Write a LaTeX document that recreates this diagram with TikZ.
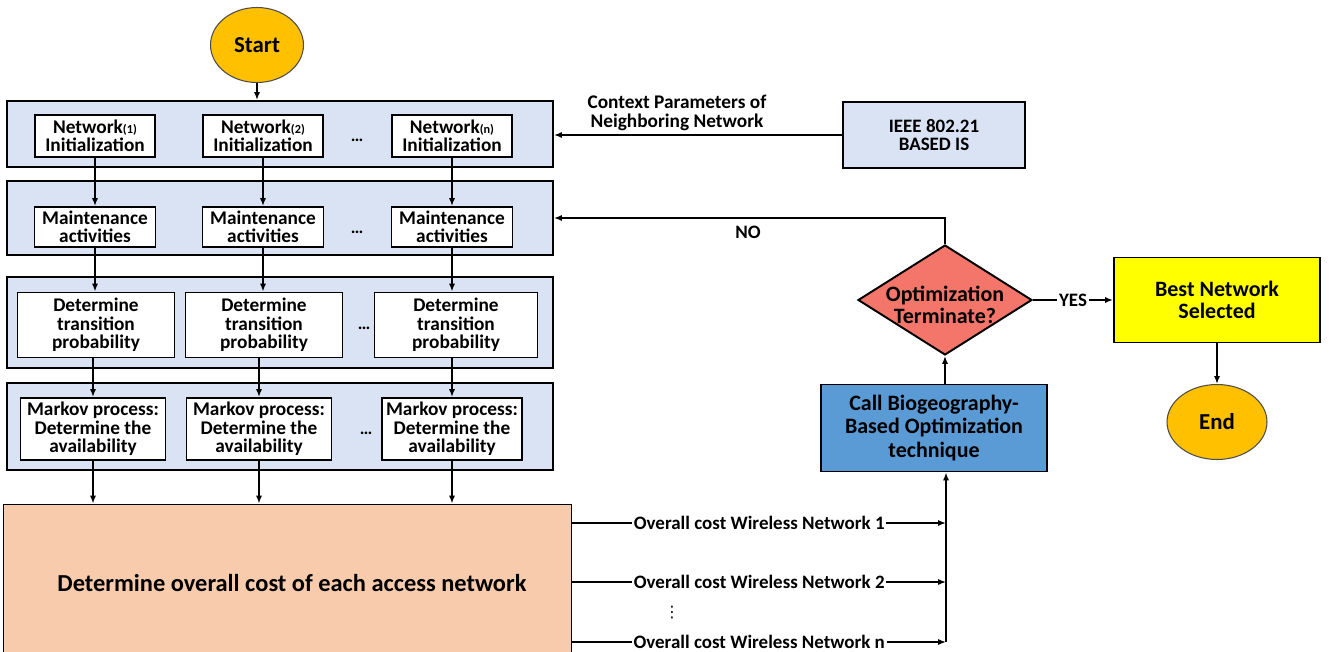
\documentclass[tikz,border=0pt]{standalone}
\usepackage{fontspec}
\setmainfont{Carlito}
\newfontfamily\symfont{DejaVu Sans}
\usetikzlibrary{arrows.meta,positioning,shapes.geometric,fit,calc}
\definecolor{bandblue}{HTML}{DAE3F3}
\definecolor{termorange}{HTML}{FFC000}
\definecolor{costpeach}{HTML}{F8CBAD}
\definecolor{bboblue}{HTML}{5B9BD5}
\definecolor{decred}{HTML}{F4766B}
\definecolor{bestyellow}{HTML}{FFFF00}
\newcommand{\netsub}[1]{{\fontsize{7}{8}\selectfont(#1)}}
\tikzset{
  band/.style={draw,line width=1.1pt,fill=bandblue,inner sep=0pt},
  stepbox/.style={draw,line width=1.1pt,fill=white,align=center,inner sep=1pt,
    font=\bfseries\fontsize{11}{10.5}\selectfont},
  initbox/.style={stepbox,minimum width=2.4cm,minimum height=0.84cm},
  maintbox/.style={stepbox,minimum width=2.42cm,minimum height=0.8cm},
  probbox/.style={stepbox,minimum width=3.14cm,minimum height=1.3cm},
  markbox/.style={stepbox,minimum width=2.9cm,minimum height=1.24cm},
  terminal/.style={ellipse,draw=black!70,line width=0.6pt,fill=termorange,inner sep=0pt,
    font=\bfseries\fontsize{13}{15}\selectfont},
  bigbox/.style={draw,line width=1.1pt,align=center,inner sep=2pt,
    font=\bfseries\fontsize{12.5}{12.5}\selectfont},
  decision/.style={diamond,draw,line width=1.1pt,fill=decred,inner sep=0pt,
    minimum width=3.48cm,minimum height=2.2cm},
  lbl/.style={font=\bfseries\fontsize{10.8}{10.5}\selectfont,align=center,inner sep=1pt},
  dots/.style={font=\bfseries\fontsize{10}{12}\selectfont,inner sep=0pt},
  flow/.style={-{Latex[length=4.5pt,width=3.5pt]},line width=1.1pt},
  plain/.style={line width=1.1pt}
}
\begin{document}
\begin{tikzpicture}[x=0.02cm,y=-0.02cm]
\useasboundingbox (0,0) rectangle (1332,652);

\node[terminal,minimum width=1.86cm,minimum height=1.5cm] (start) at (257,45) {Start};

% the four network bands
\node[band,fit={(7,101) (553,167)}] (band1) {};
\node[band,fit={(7,181) (553,255)}] (band2) {};
\node[band,fit={(7,277) (553,368)}] (band3) {};
\node[band,fit={(7,383) (553,470)}] (band4) {};

\node[initbox] (init1) at (95,136) {Network\netsub{1}\\Initialization};
\node[initbox] (init2) at (263,136) {Network\netsub{2}\\Initialization};
\node[initbox] (init3) at (452,136) {Network\netsub{n}\\Initialization};
\node[dots] (dots1) at (357,140) {\ldots};

\node[maintbox] (maint1) at (95,227) {Maintenance\\activities};
\node[maintbox] (maint2) at (263,227) {Maintenance\\activities};
\node[maintbox] (maint3) at (452,227) {Maintenance\\activities};
\node[dots] (dots2) at (357,232) {\ldots};

\node[probbox] (prob1) at (96,325) {Determine\\transition\\probability};
\node[probbox] (prob2) at (264,325) {Determine\\transition\\probability};
\node[probbox,minimum width=3.26cm] (prob3) at (456,325) {Determine\\transition\\probability};
\node[dots] (dots3) at (364,328) {\ldots};

\node[markbox] (mark1) at (93,429) {Markov process:\\Determine the\\availability};
\node[markbox] (mark2) at (259,429) {Markov process:\\Determine the\\availability};
\node[markbox,minimum width=2.8cm] (mark3) at (452,429) {Markov process:\\Determine the\\availability};
\node[dots] (dots4) at (366,433) {\ldots};

\node[bigbox,fill=costpeach,fit={(7,508) (568,662)}] (cost) {};
\node[bigbox,draw=none,font=\bfseries\fontsize{13.9}{15}\selectfont] (costtxt) at (292,583) {Determine overall cost of each access network};

% right hand side
\node[bigbox,fill=bandblue,minimum width=3.64cm,minimum height=1.32cm,
  font=\bfseries\fontsize{10.8}{10.5}\selectfont] (ieee) at (934,135) {IEEE 802.21\\BASED IS};
\node[decision] (term) at (945,300) {};
\node[bigbox,draw=none] (termtxt) at ([yshift=-0.1cm]term.center) {Optimization\\Terminate?};
\node[bigbox,fill=bestyellow,minimum width=4.12cm,minimum height=1.7cm] (best) at (1217,300) {Best Network\\Selected};
\node[terminal,minimum width=2cm,minimum height=1.5cm] (end) at (1217,422) {End};
\node[bigbox,fill=bboblue,minimum width=4.52cm,minimum height=1.74cm,
  font=\bfseries\fontsize{12.5}{13.6}\selectfont] (bbo) at (934,428) {Call Biogeography-\\Based Optimization\\technique};

% vertical flow
\draw[flow] (start) -- (start |- band1.north);
\draw[flow] (init1) -- (maint1);
\draw[flow] (init2) -- (maint2);
\draw[flow] (init3) -- (maint3);
\draw[flow] (maint1) -- (prob1.north -| maint1);
\draw[flow] (maint2) -- (prob2.north -| maint2);
\draw[flow] (maint3) -- (prob3.north -| maint3);
\draw[flow] (prob1.south -| mark1) -- (mark1);
\draw[flow] (prob2.south -| mark2) -- (mark2);
\draw[flow] (prob3.south -| mark3) -- (mark3);
\draw[flow] (mark1) -- (mark1 |- cost.north);
\draw[flow] (mark2) -- (mark2 |- cost.north);
\draw[flow] (mark3) -- (mark3 |- cost.north);

% feedback and context
\draw[flow] (ieee.west) -- (ieee.west -| band1.east);
\node[lbl,font=\bfseries\fontsize{11}{10.5}\selectfont] (ctxlbl) at (677,113) {Context Parameters of\\Neighboring Network};
\draw[flow] (term.north) |- (band2.east);
\node[lbl] (nolbl) at (748,232) {NO};
\draw[flow] (term.east) -- node[lbl,fill=white] (yeslbl) {YES} (best.west);
\draw[flow] (best) -- (end);
\draw[flow] (term.south |- bbo.north) -- (term.south);

% overall costs into the collector
\coordinate (c1) at (946,523);
\coordinate (c2) at (946,582);
\coordinate (cn) at (946,642);
\draw[flow] (cost.east |- c1) -- node[lbl,fill=white] (lbl1) {Overall cost Wireless Network 1} (c1);
\draw[flow] (cost.east |- c2) -- node[lbl,fill=white] (lbl2) {Overall cost Wireless Network 2} (c2);
\draw[flow] (cost.east |- cn) -- node[lbl,fill=white] (lbln) {Overall cost Wireless Network n} (cn);
\node[dots,font=\symfont\fontsize{9}{9}\selectfont] (vdots) at (672,613) {⋮};
\draw[flow] (cn) -- (cn |- bbo.south);
\end{tikzpicture}
\end{document}
